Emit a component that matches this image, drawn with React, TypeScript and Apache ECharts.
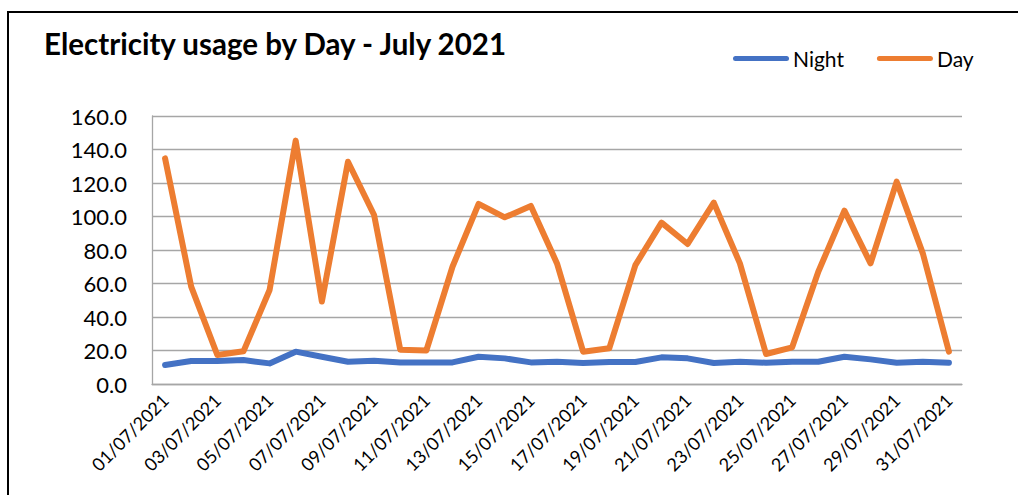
import React, { useEffect, useRef } from "react";
import * as echarts from "echarts";

const dates: string[] = [
  "01/07/2021", "02/07/2021", "03/07/2021", "04/07/2021", "05/07/2021", "06/07/2021",
  "07/07/2021", "08/07/2021", "09/07/2021", "10/07/2021", "11/07/2021", "12/07/2021",
  "13/07/2021", "14/07/2021", "15/07/2021", "16/07/2021", "17/07/2021", "18/07/2021",
  "19/07/2021", "20/07/2021", "21/07/2021", "22/07/2021", "23/07/2021", "24/07/2021",
  "25/07/2021", "26/07/2021", "27/07/2021", "28/07/2021", "29/07/2021", "30/07/2021",
  "31/07/2021",
];

const nightValues: number[] = [
  11.3, 13.7, 13.7, 14.3, 12.3, 19.3, 16.3, 13.3, 13.9, 12.9, 12.9, 12.9, 16.3, 15.3,
  12.9, 13.3, 12.5, 13.1, 13.1, 15.9, 15.3, 12.5, 13.3, 12.7, 13.3, 13.3, 16.3, 14.7,
  12.7, 13.3, 12.7,
];

const dayValues: number[] = [
  134.7, 58.1, 17.3, 19.5, 56.1, 145.3, 49.2, 132.7, 100.9, 20.5, 20.0, 70.0, 107.5, 99.5,
  106.3, 72.0, 19.3, 21.3, 71.0, 96.3, 83.6, 108.3, 72.0, 17.9, 21.9, 67.0, 103.5, 72.0,
  120.8, 78.0, 19.3,
];

const seriesNames: string[] = ["Night", "Day"];
const titleText = "Electricity usage by Day - July 2021";

const FONT = "Lato, 'Open Sans', sans-serif";
const legendIcon =
  "path://M2.5,0 H53.5 A2.5,2.5 0 0 1 53.5,5 H2.5 A2.5,2.5 0 0 1 2.5,0 Z";

export default function App() {
  const ref = useRef<HTMLDivElement>(null);

  useEffect(() => {
    if (!ref.current) return;
    const chart = echarts.init(ref.current, undefined, { renderer: "svg" });
    chart.setOption({
      animation: false,
      backgroundColor: "#ffffff",
      textStyle: { fontFamily: FONT },
      title: {
        text: titleText,
        left: 44,
        top: 28,
        padding: 0,
        textStyle: { fontFamily: FONT, fontWeight: "bold", fontSize: 29.5, color: "#000000" },
      },
      legend: {
        left: 733,
        top: 48,
        padding: 0,
        itemGap: 33,
        itemWidth: 56,
        itemHeight: 5,
        icon: legendIcon,
        textStyle: { fontFamily: FONT, fontSize: 21, color: "#000000", padding: [0, 0, 0, -1] },
        data: seriesNames,
      },
      graphic: [
        { type: "line", shape: { x1: 8, y1: 12, x2: 1018, y2: 12 }, style: { stroke: "#000", lineWidth: 2 } },
        { type: "line", shape: { x1: 8, y1: 11, x2: 8, y2: 495 }, style: { stroke: "#000", lineWidth: 2 } },
      ],
      grid: { left: 152, right: 56, top: 116, bottom: 111, containLabel: false },
      xAxis: {
        type: "category",
        data: dates,
        boundaryGap: true,
        axisLine: { show: true, lineStyle: { color: "#A6A6A6", width: 1.3 } },
        axisTick: { show: false },
        axisLabel: {
          interval: 1,
          rotate: 45,
          margin: 13,
          fontFamily: FONT,
          fontSize: 18,
          color: "#000000",
        },
      },
      yAxis: {
        type: "value",
        min: 0,
        max: 160,
        interval: 20,
        axisLine: { show: true, lineStyle: { color: "#A6A6A6", width: 1.3 } },
        axisTick: { show: false },
        splitLine: { show: true, lineStyle: { color: "#A6A6A6", width: 1.3 } },
        axisLabel: {
          margin: 25,
          fontFamily: FONT,
          fontSize: 22,
          color: "#000000",
          formatter: (v: number) => v.toFixed(1),
        },
      },
      series: [
        {
          name: seriesNames[0],
          type: "line",
          data: nightValues,
          symbol: "none",
          color: "#4472C4",
          lineStyle: { width: 6, color: "#4472C4", cap: "round", join: "round" },
        },
        {
          name: seriesNames[1],
          type: "line",
          data: dayValues,
          symbol: "none",
          color: "#ED7D31",
          lineStyle: { width: 6, color: "#ED7D31", cap: "round", join: "round" },
        },
      ],
    });
    return () => chart.dispose();
  }, []);

  return (
    <div
      ref={ref}
      style={{ position: "fixed", left: 0, top: 0, width: 1018, height: 495, background: "#fff" }}
    />
  );
}
